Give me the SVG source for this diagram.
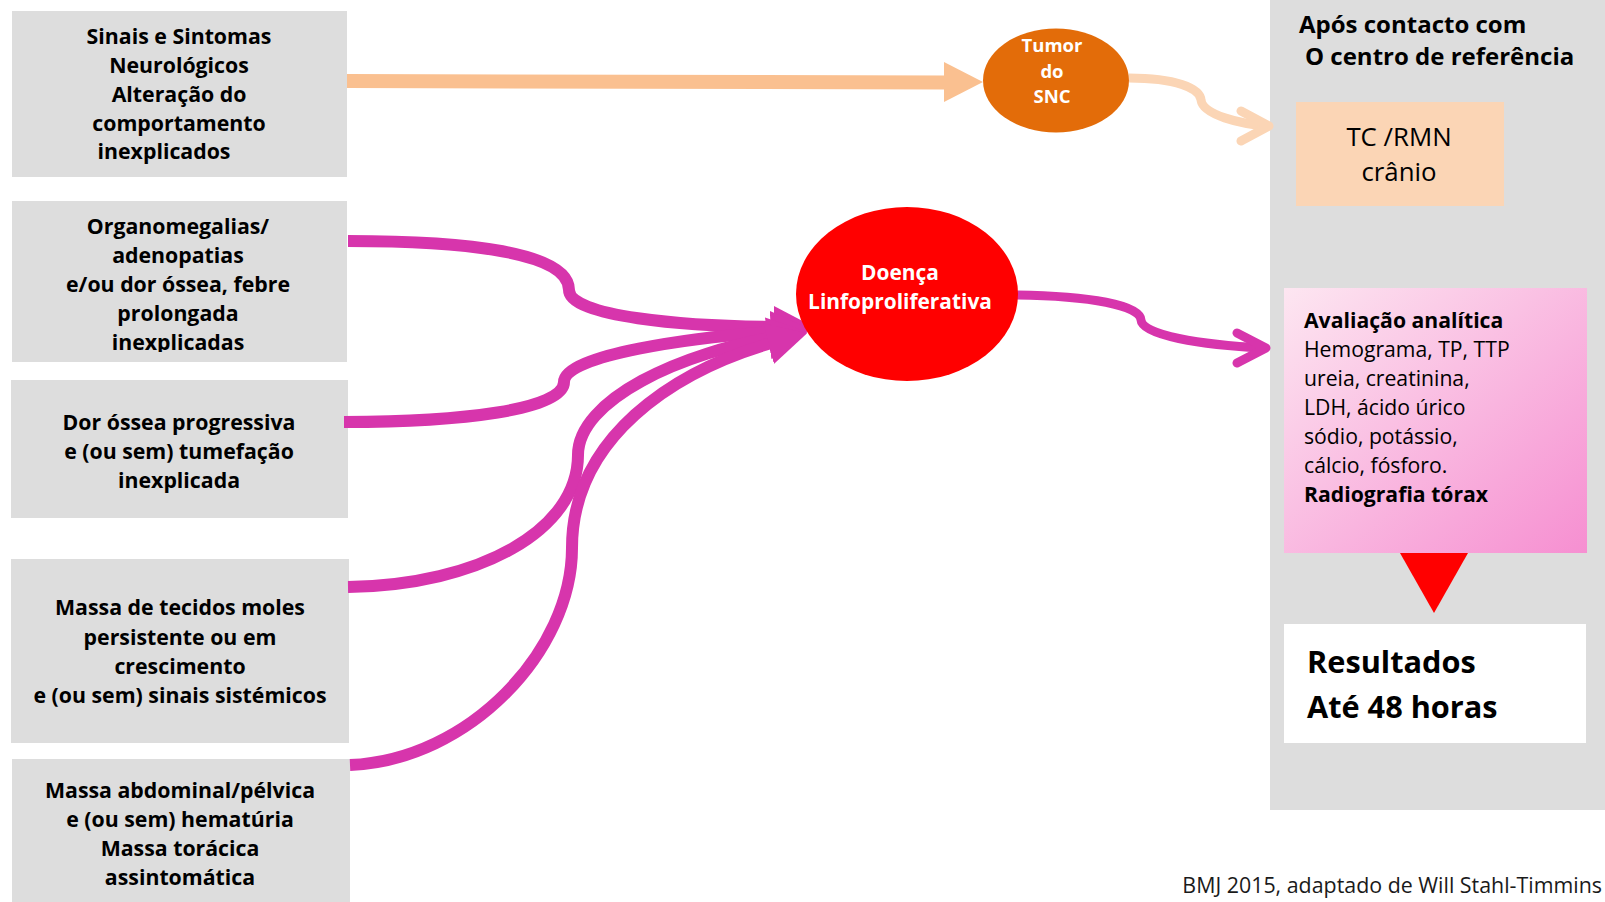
<svg xmlns="http://www.w3.org/2000/svg" width="1605" height="902" viewBox="0 0 1605 902">
<style>
.box{fill:#DDDDDD}
.bt{font-family:"Open Sans","Liberation Sans",sans-serif;font-weight:700;font-size:21.3px;fill:#000;text-anchor:middle}
.wt{font-family:"Open Sans","Liberation Sans",sans-serif;font-weight:700;fill:#fff;text-anchor:middle}
.rt{font-family:"Open Sans","Liberation Sans",sans-serif;font-size:21.2px;fill:#000}
.pk{fill:none;stroke:#D735AC;stroke-width:12}
</style>
<defs>
<marker id="pa" markerUnits="userSpaceOnUse" markerWidth="44" markerHeight="44" refX="14" refY="21" orient="auto" viewBox="0 0 44 44">
<path d="M0,0 L40,21 L0,42 z" fill="#D735AC"/>
</marker>
<linearGradient id="pg" x1="0" y1="0" x2="1" y2="1">
<stop offset="0" stop-color="#FDE6F1"/>
<stop offset="1" stop-color="#F68FD1"/>
</linearGradient>
<clipPath id="c2"><rect x="12" y="201" width="335" height="151"/></clipPath>
</defs>

<g id="right-panel">
<rect x="1270" y="0" width="335" height="810" fill="#DDDDDD"/>
<text x="1299" y="33" font-family="'Open Sans','Liberation Sans',sans-serif" font-weight="700" font-size="24">Após contacto com</text>
<text x="1305" y="65" font-family="'Open Sans','Liberation Sans',sans-serif" font-weight="700" font-size="24">O centro de referência</text>
</g>

<g id="box-sinais">
<rect class="box" x="12" y="11" width="335" height="166"/>
<text class="bt"><tspan x="179" y="44">Sinais e Sintomas</tspan><tspan x="179" y="73">Neurológicos</tspan><tspan x="179" y="102">Alteração do</tspan><tspan x="179" y="130.5">comportamento</tspan><tspan x="164" y="159">inexplicados</tspan></text>
</g>

<g id="box-organomegalias">
<rect class="box" x="12" y="201" width="335" height="161"/>
<text class="bt" clip-path="url(#c2)"><tspan x="178" y="234">Organomegalias/</tspan><tspan x="178" y="263">adenopatias</tspan><tspan x="178" y="292">e/ou dor óssea, febre</tspan><tspan x="178" y="321">prolongada</tspan><tspan x="178" y="350">inexplicadas</tspan></text>
</g>

<g id="box-dor">
<rect class="box" x="11" y="380" width="337" height="138"/>
<text class="bt"><tspan x="179" y="429.5">Dor óssea progressiva</tspan><tspan x="179" y="459">e (ou sem) tumefação</tspan><tspan x="179" y="488">inexplicada</tspan></text>
</g>

<g id="box-massa-moles">
<rect class="box" x="11" y="559" width="338" height="184"/>
<text class="bt"><tspan x="180" y="615">Massa de tecidos moles</tspan><tspan x="180" y="644.5">persistente ou em</tspan><tspan x="180" y="674">crescimento</tspan><tspan x="180" y="703">e (ou sem) sinais sistémicos</tspan></text>
</g>

<g id="box-massa-abdominal">
<rect class="box" x="12" y="759" width="338" height="143"/>
<text class="bt"><tspan x="180" y="798">Massa abdominal/pélvica</tspan><tspan x="180" y="827">e (ou sem) hematúria</tspan><tspan x="180" y="856">Massa torácica</tspan><tspan x="180" y="885">assintomática</tspan></text>
</g>

<g id="connectors">
<path d="M347,81 L946,82.5" stroke="#FAC090" stroke-width="14" fill="none"/>
<path d="M944,62 L983,82 L944,102 z" fill="#FAC090"/>
<path d="M1129,78 C1175,78 1200,88 1201,100 C1203,115 1240,124 1268,126" stroke="#FBD5B5" stroke-width="9" fill="none"/>
<path d="M1241,111 L1269,126 L1241,141" stroke="#FBD5B5" stroke-width="9" fill="none" stroke-linecap="round" stroke-linejoin="round"/>
<path class="pk" d="M348,241 C465,241 569,252 569,290 C569,316 680,327 788,327" marker-end="url(#pa)"/>
<path class="pk" d="M344,422 C460,422 564,410 564,382 C564,355 690,337 785,331" marker-end="url(#pa)"/>
<path class="pk" d="M348,587 C480,585 578,530 578,455 C578,400 680,352 782,336" marker-end="url(#pa)"/>
<path class="pk" d="M350,765 C470,760 572,650 572,548 C572,440 670,370 782,340" marker-end="url(#pa)"/>
<path d="M1017,295 C1090,296 1140,305 1141,320 C1142,335 1200,345 1264,348" stroke="#D735AC" stroke-width="9" fill="none"/>
<path d="M1237,333 L1266,348 L1237,363" stroke="#D735AC" stroke-width="9" fill="none" stroke-linecap="round" stroke-linejoin="round"/>
</g>

<g id="tumor-snc">
<ellipse cx="1056" cy="80.5" rx="73" ry="52" fill="#E36C09"/>
<text class="wt" font-size="18.5"><tspan x="1052" y="52">Tumor</tspan><tspan x="1052" y="78">do</tspan><tspan x="1052" y="103">SNC</tspan></text>
</g>

<g id="doenca">
<ellipse cx="907" cy="294" rx="111" ry="87" fill="#FF0000"/>
<text class="wt" font-size="20.9"><tspan x="900" y="280">Doença</tspan><tspan x="900" y="309">Linfoproliferativa</tspan></text>
</g>

<g id="tc-rmn">
<rect x="1296" y="102" width="208" height="104" fill="#FBD5B5"/>
<text font-family="'Open Sans','Liberation Sans',sans-serif" font-size="25.8" text-anchor="middle" fill="#000"><tspan x="1399" y="146">TC /RMN</tspan><tspan x="1399" y="181">crânio</tspan></text>
</g>

<g id="avaliacao">
<rect x="1284" y="288" width="303" height="265" fill="url(#pg)"/>
<text class="rt"><tspan x="1304" y="328" font-weight="700">Avaliação analítica</tspan><tspan x="1304" y="357">Hemograma, TP, TTP</tspan><tspan x="1304" y="386">ureia, creatinina,</tspan><tspan x="1304" y="415">LDH, ácido úrico</tspan><tspan x="1304" y="444">sódio, potássio,</tspan><tspan x="1304" y="473">cálcio, fósforo.</tspan><tspan x="1304" y="502" font-weight="700">Radiografia tórax</tspan></text>
</g>

<g id="seta-vermelha">
<path d="M1400,553 L1468,553 L1434,613 z" fill="#FF0000"/>
</g>

<g id="resultados">
<rect x="1284" y="624" width="302" height="119" fill="#FFFFFF"/>
<text font-family="'Open Sans','Liberation Sans',sans-serif" font-weight="700" font-size="30.7" fill="#000"><tspan x="1307" y="673">Resultados</tspan><tspan x="1307" y="718">Até 48 horas</tspan></text>
</g>

<text x="1602" y="893" text-anchor="end" font-family="'Open Sans','Liberation Sans',sans-serif" font-size="21.4" fill="#1a1a1a">BMJ 2015, adaptado de Will Stahl-Timmins</text>
</svg>
